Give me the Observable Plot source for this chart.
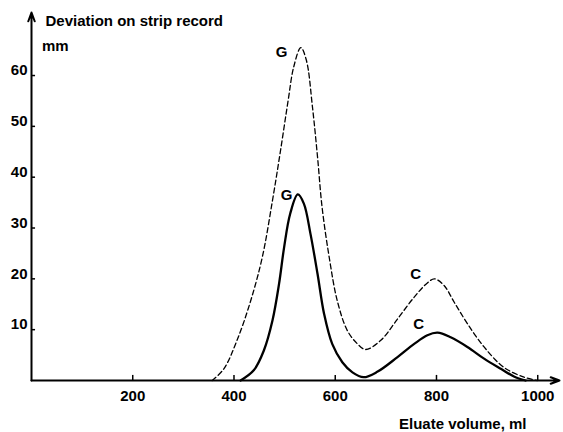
<!DOCTYPE html>
<html>
<head>
<meta charset="utf-8">
<script src="https://cdn.jsdelivr.net/npm/d3@7"></script>
<script src="https://cdn.jsdelivr.net/npm/@observablehq/plot@0.6"></script>
<style>
  html, body { margin: 0; padding: 0; background: #fff; }
  svg { display: block; }
</style>
</head>
<body>
<div id="chart"></div>
<script>
// Dashed curve (upper trace)
const dashedVolume = [357, 380, 406, 433, 456, 476, 492, 507, 518, 532, 543, 555, 565, 574, 588, 604, 624, 644, 660, 690, 723, 756, 782, 796, 815, 835, 861, 894, 933, 973, 999];
const dashedDeviation = [0, 2.3, 7.9, 15.7, 24.3, 35.4, 45.3, 55.1, 61.7, 65.5, 63, 53.8, 44, 34.1, 24.3, 15.7, 9.8, 7.2, 6.1, 7.9, 12.1, 16.4, 19.2, 20.0, 18.7, 15.4, 11.2, 6.6, 2.6, 0.65, 0];

// Solid curve (lower trace)
const solidVolume = [413, 439, 459, 476, 489, 499, 511, 526, 538, 551, 565, 578, 594, 614, 634, 656, 683, 723, 756, 782, 802, 828, 861, 894, 927, 953, 976];
const solidDeviation = [0, 2.0, 5.9, 11.8, 19.0, 26.2, 32.8, 36.6, 34.8, 28.9, 21.0, 13.1, 7.2, 3.6, 1.6, 0.65, 1.7, 4.6, 7.2, 8.9, 9.4, 8.5, 6.6, 4.3, 2.3, 0.8, 0];

// Peak labels
const labelText = ["G", "G", "C", "C"];
const labelVolume = [494, 504, 759, 765];
const labelDeviation = [64.5, 36.4, 20.9, 11.0];

// Ticks
const xTicks = [200, 400, 600, 800, 1000];
const yTicks = [10, 20, 30, 40, 50, 60];
const xMax = 1043;
const yMax = 72.4;

const yTitle = "Deviation on strip record";
const yUnit = "mm";
const xTitle = "Eluate volume, ml";

const dashed = dashedVolume.map((v, i) => ({v, d: dashedDeviation[i]}));
const solid = solidVolume.map((v, i) => ({v, d: solidDeviation[i]}));
const labels = labelText.map((t, i) => ({t, v: labelVolume[i], d: labelDeviation[i]}));
const axesLines = [
  {x1: 0, y1: 0, x2: xMax, y2: 0},
  {x1: 0, y1: 0, x2: 0, y2: yMax}
];

const font = "'Liberation Sans', Arial, sans-serif";

const chart = Plot.plot({
  width: 563,
  height: 432,
  marginLeft: 31,
  marginRight: 4,
  marginTop: 12,
  marginBottom: 52,
  style: {fontFamily: font, background: "#fff", color: "#000"},
  x: {domain: [0, xMax], axis: null},
  y: {domain: [0, yMax], axis: null},
  marks: [
    Plot.arrow(axesLines, {x1: "x1", y1: "y1", x2: "x2", y2: "y2", stroke: "#000", strokeWidth: 2, headLength: 7, headAngle: 40}),
    Plot.ruleX(xTicks, {x: d => d, y1: 0, y2: 1, stroke: "#000", strokeWidth: 1.5}),
    Plot.ruleY(yTicks, {y: d => d, x1: 0, x2: 8, stroke: "#000", strokeWidth: 1.5}),
    Plot.text(xTicks, {x: d => d, y: 0, text: d => String(d), dy: 10, lineAnchor: "top", fontSize: 15, fontWeight: "bold", fill: "#000", style: "letter-spacing:0.4px"}),
    Plot.text(yTicks, {x: 0, y: d => d, text: d => String(d), dx: -4, dy: -5, textAnchor: "end", fontSize: 15, fontWeight: "bold", fill: "#000"}),
    Plot.line(dashed, {x: "v", y: "d", curve: "catmull-rom", stroke: "#000", strokeWidth: 1.3, strokeDasharray: "5,3"}),
    Plot.line(solid, {x: "v", y: "d", curve: "catmull-rom", stroke: "#000", strokeWidth: 2.3}),
    Plot.text(labels, {x: "v", y: "d", text: "t", fontSize: 15, fontWeight: "bold", fill: "#000"}),
    Plot.text([yTitle], {frameAnchor: "top-left", dx: 14, dy: 2.4, textAnchor: "start", lineAnchor: "top", fontSize: 15, fontWeight: "bold", fill: "#000", style: "letter-spacing:1.2px"}),
    Plot.text([yUnit], {frameAnchor: "top-left", dx: 10.5, dy: 27.4, textAnchor: "start", lineAnchor: "top", fontSize: 15, fontWeight: "bold", fill: "#000", style: "letter-spacing:1px"}),
    Plot.text([xTitle], {frameAnchor: "bottom-right", dx: -33, dy: 37.5, textAnchor: "end", lineAnchor: "top", fontSize: 15, fontWeight: "bold", fill: "#000", style: "letter-spacing:2.1px"})
  ]
});
document.getElementById("chart").appendChild(chart);
</script>
</body>
</html>
